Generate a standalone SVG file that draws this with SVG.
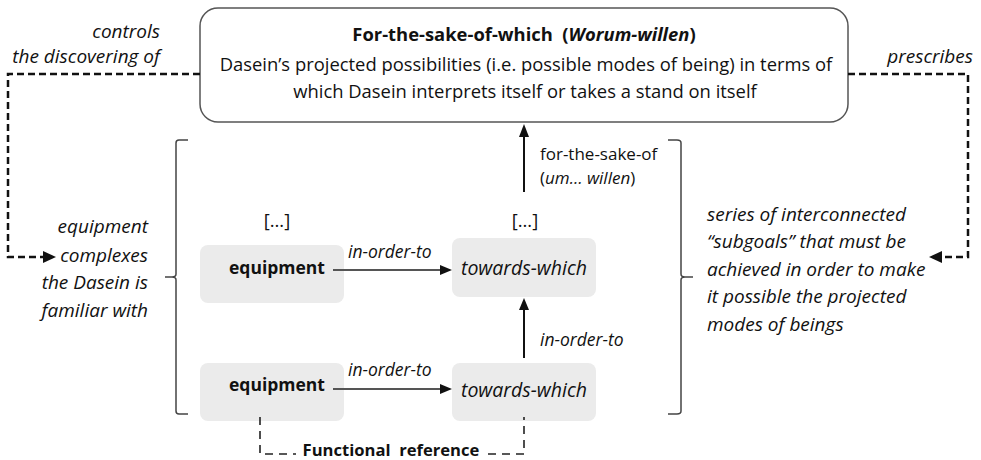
<svg xmlns="http://www.w3.org/2000/svg" width="981" height="460" viewBox="0 0 981 460">
<defs>
<style>
text{font-family:"Open Sans","Liberation Sans",Arial,sans-serif;fill:#111;white-space:pre;}
.t{font-size:18.4px;}
.n{font-size:17.5px;}
.m{font-size:17.5px;}
.s{font-size:17px;}
.f{font-size:16.6px;}
.l{font-size:19px;}
.w{font-size:19.5px;}
.b{font-weight:bold;}
.i{font-style:italic;}
.node{fill:#ebebeb;stroke:none;}
.dash{fill:none;stroke:#111;stroke-width:2.5;stroke-dasharray:7 4;}
.fdash{fill:none;stroke:#222;stroke-width:1.6;stroke-dasharray:8 6;}
.arr{fill:none;stroke:#111;stroke-width:2;}
.harr{fill:none;stroke:#555;stroke-width:2;}
.br{fill:none;stroke:#444;stroke-width:1.5;}
</style>
</defs>
<g id="top">
<rect x="200" y="8" width="648" height="114" rx="18" fill="#fff" stroke="#555" stroke-width="1.5"/>
<text class="t b" x="524" y="41" text-anchor="middle" xml:space="preserve">For-the-sake-of-which  (<tspan class="i">Worum-willen</tspan>)</text>
<text class="t" x="526" y="71" text-anchor="middle">Dasein’s projected possibilities (i.e. possible modes of being) in terms of</text>
<text class="t" x="525" y="98" text-anchor="middle">which Dasein interprets itself or takes a stand on itself</text>
</g>
<g id="eq1">
<rect class="node" x="200" y="245" width="144" height="58" rx="8"/>
<text class="n b" x="277" y="274" text-anchor="middle">equipment</text>
</g>
<g id="tw1">
<rect class="node" x="452" y="238" width="144" height="59" rx="8"/>
<text class="w i" x="524" y="275" text-anchor="middle">towards-which</text>
</g>
<g id="eq2">
<rect class="node" x="200" y="363" width="144" height="58" rx="8"/>
<text class="n b" x="277" y="391" text-anchor="middle">equipment</text>
</g>
<g id="tw2">
<rect class="node" x="452" y="363" width="144" height="58" rx="8"/>
<text class="w i" x="524" y="397" text-anchor="middle">towards-which</text>
</g>
<g id="labels">
<text class="l i" x="160" y="38" text-anchor="end">controls</text>
<text class="l i" x="160" y="63" text-anchor="end">the discovering of</text>
<text class="l i" x="973" y="63" text-anchor="end">prescribes</text>
<text class="l i" x="148" y="233" text-anchor="end">equipment</text>
<text class="l i" x="148" y="262" text-anchor="end">complexes</text>
<text class="l i" x="148" y="289" text-anchor="end">the Dasein is</text>
<text class="l i" x="148" y="317" text-anchor="end">familiar with</text>
<text class="l i" x="707" y="221">series of interconnected</text>
<text class="l i" x="707" y="248">“subgoals” that must be</text>
<text class="l i" x="707" y="276">achieved in order to make</text>
<text class="l i" x="707" y="303">it possible the projected</text>
<text class="l i" x="707" y="331">modes of beings</text>
<text class="t" x="277" y="227" text-anchor="middle">[…]</text>
<text class="t" x="525" y="227" text-anchor="middle">[…]</text>
<text class="s" x="540" y="160">for-the-sake-of</text>
<text class="s" x="540" y="184">(<tspan class="i">um… willen</tspan>)</text>
<text class="m i" x="348" y="258">in-order-to</text>
<text class="m i" x="348" y="376">in-order-to</text>
<text class="m i" x="540" y="346">in-order-to</text>
<text class="f b" x="391" y="456" text-anchor="middle" xml:space="preserve">Functional  reference</text>
</g>
<g id="connectors">
<path class="dash" d="M200,74 H8 V257 H43" />
<path d="M43,251 L56,257 L43,263 Z" fill="#111"/>
<path class="dash" d="M848,74 H968 V257 H942" />
<path d="M942,251 L929,257 L942,263 Z" fill="#111"/>
<path class="br" d="M188,140 H179 Q176,140 176,143 V274 Q176,277 172,277 H165 M172,277 Q176,277 176,280 V411 Q176,414 179,414 H188"/>
<path class="br" d="M668,140 H677 Q681,140 681,143 V274 Q681,277 685,277 H693 M685,277 Q681,277 681,280 V411 Q681,414 677,414 H668"/>
<line class="harr" x1="333" y1="270" x2="440" y2="270"/>
<path d="M440,265 L452,270 L440,275 Z" fill="#111"/>
<line class="harr" x1="333" y1="389" x2="440" y2="389"/>
<path d="M440,384 L452,389 L440,394 Z" fill="#111"/>
<line class="arr" x1="524" y1="358" x2="524" y2="310"/>
<path d="M519,310 L524,298 L529,310 Z" fill="#111"/>
<line class="arr" x1="524" y1="192" x2="524" y2="136"/>
<path d="M519,137 L524,124 L529,137 Z" fill="#111"/>
<path class="fdash" d="M260,417 V454 H296"/>
<path class="fdash" d="M488,454 H524 V417"/>
</g>
</svg>
